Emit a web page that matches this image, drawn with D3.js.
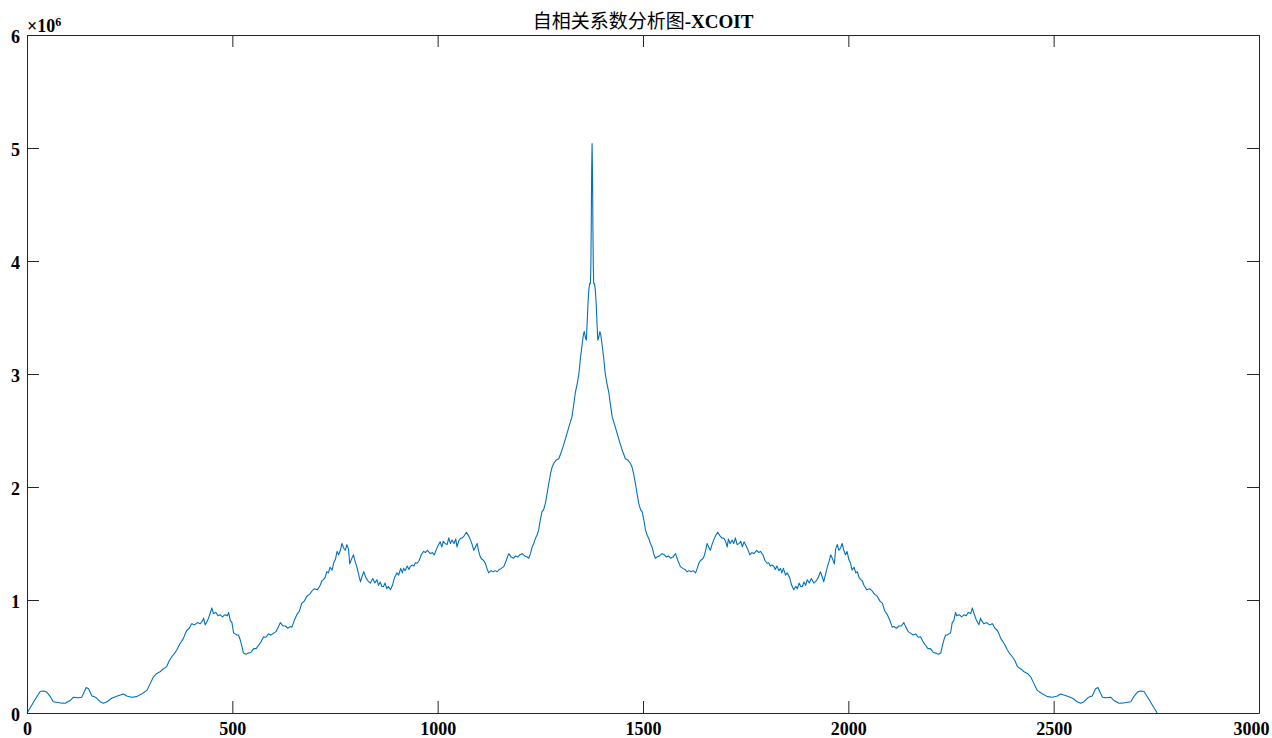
<!DOCTYPE html>
<html>
<head>
<meta charset="utf-8">
<script src="https://cdn.jsdelivr.net/npm/d3@7"></script>
<style>
  body { margin: 0; background: #fff; }
  svg { display: block; }
</style>
</head>
<body>
<div id="chart"></div>
<script>
// lag (samples) and autocorrelation value (x10^6)
var lags = [
  0,10,19,32,40,48,56,64,80,93,105,113,125,133,140,144,150,158,164,170,178,186,195,206,220,235,243,255,267,280,292,300,308,316,324,332,340,346,353,358,365,372,381,385,389,395,401,408,415,422,428,430,434,440,446,450,454,460,465,470,476,482,488,491,495,499,503,507,511,515,519,524,527,533,539,545,552,558,564,570,576,582,588,594,600,606,612,617,623,629,635,641,645,651,657,663,669,675,682,688,694,700,707,714,718,722,726,730,734,738,743,747,751,755,759,763,767,771,775,779,783,786,790,795,799,803,808,812,816,820,825,830,836,842,847,852,856,860,864,868,872,876,880,885,890,895,901,905,910,914,917,921,926,930,933,938,942,946,950,955,960,966,970,975,982,987,992,997,1001,1006,1010,1014,1018,1023,1027,1031,1035,1040,1044,1047,1051,1055,1060,1065,1070,1075,1080,1084,1088,1092,1096,1100,1104,1108,1112,1116,1120,1124,1130,1135,1140,1145,1150,1155,1161,1167,1173,1179,1185,1190,1195,1200,1206,1212,1218,1222,1226,1230,1234,1238,1242,1246,1250,1254,1258,1262,1265,1270,1275,1279,1283,1289,1295,1299,1303,1309,1315,1321,1327,1331,1335,1340,1344,1348,1352,1355,1357,1360,1362,1364,1366,1368,1370,1372,1373,1374,1375,1376,
  1377,1378,1379,1380,1382,1384,1386,1388,1390,1392,1395,1397,1400,1404,1408,1412,1417,1421,1425,1431,1437,1443,1449,1453,1457,1463,1469,1473,1477,1482,1487,1490,1494,1498,1502,1506,1510,1514,1518,1522,1526,1530,1534,1540,1546,1552,1557,1562,1567,1573,1579,1585,1591,1597,1602,1607,1612,1617,1622,1628,1632,1636,1640,1644,1648,1652,1656,1660,1664,1668,1672,1677,1682,1687,1692,1697,1701,1705,1708,1712,1717,1721,1725,1729,1734,1738,1742,1746,1751,1755,1760,1765,1770,1777,1782,1786,1792,1797,1802,1806,1810,1814,1819,1822,1826,1831,1835,1838,1842,1847,1851,1857,1862,1867,1872,1876,1880,1884,1888,1892,1896,1900,1905,1910,1916,1922,1927,1932,1936,1940,1944,1949,1953,1957,1962,1966,1969,1973,1977,1981,1985,1989,1993,1997,2001,2005,2009,2014,2018,2022,2026,2030,2034,2038,2045,2052,2058,2064,2070,2077,2083,2089,2095,2101,2107,2111,2117,2123,2129,2135,2140,2146,2152,2158,2164,2170,2176,2182,2188,2194,2200,2207,2213,2219,2225,2228,2233,2237,2241,2245,2249,2253,2257,2261,2264,2270,2276,2282,2287,2292,2298,2302,2306,2312,2318,2322,2324,2330,2337,2344,2351,2357,2363,2367,2371,2380,2387,2394,2399,2406,2412,2420,2428,2436,2444,2452,2460,2472,2485,2497,2509,2517,2532,2546,2557,2566,2574,2582,2588,2594,2602,2608,2612,2619,2627,2639,2647,2659,2672,2688,2696,2704,2712,2720,2733,2742,2752
];
var values = [
  0,0.06,0.115,0.19,0.195,0.185,0.15,0.10,0.09,0.086,0.11,0.14,0.135,0.14,0.19,0.225,0.215,0.15,0.145,0.13,0.10,0.086,0.10,0.13,0.15,0.168,0.15,0.14,0.145,0.17,0.20,0.26,0.32,0.35,0.365,0.39,0.41,0.46,0.50,0.52,0.56,0.61,0.66,0.70,0.73,0.75,0.79,0.78,0.80,0.79,0.82,0.84,0.78,0.82,0.88,0.93,0.88,0.89,0.86,0.87,0.85,0.87,0.86,0.89,0.82,0.80,0.71,0.70,0.69,0.69,0.65,0.58,0.53,0.52,0.53,0.535,0.57,0.57,0.60,0.63,0.675,0.67,0.70,0.69,0.705,0.72,0.76,0.80,0.77,0.77,0.75,0.765,0.76,0.82,0.87,0.90,0.97,0.99,1.035,1.05,1.08,1.10,1.09,1.13,1.17,1.18,1.20,1.25,1.24,1.29,1.265,1.33,1.36,1.43,1.40,1.44,1.50,1.46,1.44,1.49,1.45,1.32,1.36,1.40,1.34,1.295,1.22,1.16,1.21,1.25,1.20,1.17,1.15,1.19,1.15,1.18,1.13,1.16,1.12,1.12,1.15,1.10,1.12,1.09,1.13,1.20,1.24,1.22,1.28,1.24,1.28,1.26,1.30,1.27,1.295,1.31,1.30,1.33,1.325,1.35,1.40,1.43,1.42,1.44,1.41,1.42,1.40,1.45,1.48,1.515,1.47,1.52,1.50,1.49,1.55,1.50,1.53,1.50,1.54,1.47,1.52,1.545,1.55,1.57,1.60,1.57,1.53,1.49,1.44,1.47,1.50,1.43,1.38,1.36,1.35,1.325,1.28,1.24,1.26,1.25,1.26,1.25,1.27,1.28,1.295,1.35,1.41,1.38,1.37,1.39,1.38,1.40,1.41,1.39,1.38,1.37,1.41,1.47,1.50,1.545,1.575,1.62,1.71,1.78,1.80,1.85,1.91,2.02,2.12,2.18,2.21,2.24,2.25,2.29,2.33,2.40,2.475,2.55,2.62,2.72,2.83,2.92,3.005,3.15,3.27,3.35,3.375,3.32,3.30,3.45,3.62,3.74,3.80,3.80,3.95,4.3,4.8,5.04,
  4.8,4.3,3.95,3.80,3.80,3.74,3.62,3.45,3.30,3.32,3.375,3.35,3.27,3.15,3.005,2.92,2.83,2.72,2.62,2.55,2.475,2.40,2.33,2.29,2.25,2.24,2.21,2.18,2.12,2.02,1.91,1.85,1.80,1.78,1.71,1.62,1.575,1.545,1.50,1.47,1.41,1.37,1.38,1.39,1.41,1.40,1.38,1.39,1.37,1.38,1.41,1.35,1.295,1.28,1.27,1.25,1.26,1.25,1.26,1.24,1.28,1.325,1.35,1.36,1.38,1.43,1.50,1.47,1.44,1.49,1.53,1.57,1.60,1.57,1.55,1.545,1.52,1.47,1.54,1.50,1.53,1.50,1.55,1.49,1.50,1.52,1.47,1.515,1.48,1.45,1.40,1.42,1.41,1.44,1.42,1.43,1.40,1.35,1.325,1.33,1.30,1.31,1.295,1.27,1.30,1.26,1.28,1.24,1.28,1.22,1.24,1.20,1.13,1.09,1.12,1.10,1.15,1.12,1.12,1.16,1.13,1.18,1.15,1.19,1.15,1.17,1.20,1.25,1.21,1.16,1.22,1.295,1.34,1.40,1.36,1.32,1.45,1.49,1.44,1.46,1.50,1.44,1.40,1.43,1.36,1.33,1.265,1.29,1.24,1.25,1.20,1.18,1.17,1.13,1.09,1.10,1.08,1.05,1.035,0.99,0.97,0.90,0.87,0.82,0.76,0.765,0.75,0.77,0.77,0.80,0.76,0.72,0.705,0.69,0.70,0.67,0.675,0.63,0.60,0.57,0.57,0.535,0.53,0.52,0.53,0.58,0.65,0.69,0.69,0.70,0.71,0.80,0.82,0.89,0.86,0.87,0.85,0.87,0.86,0.89,0.88,0.93,0.88,0.82,0.78,0.84,0.82,0.79,0.80,0.78,0.79,0.75,0.73,0.70,0.66,0.61,0.56,0.52,0.50,0.46,0.41,0.39,0.365,0.35,0.32,0.26,0.20,0.17,0.145,0.14,0.15,0.168,0.15,0.13,0.10,0.086,0.10,0.13,0.145,0.15,0.215,0.225,0.19,0.14,0.135,0.14,0.11,0.086,0.09,0.10,0.15,0.185,0.195,0.19,0.115,0.06,0
];
var xTicks = [0, 500, 1000, 1500, 2000, 2500, 3000];
var yTicks = [0, 1, 2, 3, 4, 5, 6];

var W = 1272, H = 738;
var margin = {left: 27, right: 13, top: 35, bottom: 25};
var axisColor = "#262626";
var lineColor = "#0072BD";
var numFont = "'Liberation Serif', 'Times New Roman', serif";

var svg = d3.select("#chart").append("svg")
  .attr("width", W)
  .attr("height", H);

var x = d3.scaleLinear().domain([0, 3000]).range([margin.left, W - margin.right]);
var y = d3.scaleLinear().domain([0, 6]).range([H - margin.bottom, margin.top]);

// curva
var pts = lags.map(function(d, i){ return [d, values[i]]; });
var line = d3.line()
  .x(function(d){ return x(d[0]); })
  .y(function(d){ return y(d[1]); });

svg.append("path")
  .datum(pts)
  .attr("d", line)
  .attr("fill", "none")
  .attr("stroke", lineColor)
  .attr("stroke-width", 1.1)
  .attr("stroke-linejoin", "round");

// assi (tick verso l'interno su tutti e quattro i lati)
function styleAxis(g){
  g.selectAll("path").attr("stroke", axisColor).attr("stroke-width", 1);
  g.selectAll("line").attr("stroke", axisColor).attr("stroke-width", 1);
  g.selectAll("text")
    .attr("fill", "#000")
    .style("font-family", numFont)
    .style("font-weight", "bold")
    .style("font-size", "18px");
}

svg.append("g")
  .attr("transform", "translate(0," + (H - margin.bottom) + ")")
  .call(d3.axisBottom(x).tickValues(xTicks).tickSizeInner(-12).tickSizeOuter(0).tickPadding(10).tickFormat(d3.format("d")))
  .call(styleAxis)
  .call(function(g){
    g.selectAll("text").attr("dy", "0.68em");
    // l'ultima etichetta sta vicino al bordo destro
    g.selectAll(".tick text").filter(function(d){ return d === 3000; }).attr("dx", -8);
  });

svg.append("g")
  .attr("transform", "translate(0," + margin.top + ")")
  .call(d3.axisTop(x).tickValues(xTicks).tickSizeInner(-12).tickSizeOuter(0).tickFormat(""))
  .call(styleAxis);

svg.append("g")
  .attr("transform", "translate(" + margin.left + ",0)")
  .call(d3.axisLeft(y).tickValues(yTicks).tickSizeInner(-12).tickSizeOuter(0).tickPadding(7).tickFormat(d3.format("d")))
  .call(styleAxis)
  .call(function(g){ g.selectAll("text").attr("dy", "0.4em"); });

svg.append("g")
  .attr("transform", "translate(" + (W - margin.right) + ",0)")
  .call(d3.axisRight(y).tickValues(yTicks).tickSizeInner(-12).tickSizeOuter(0).tickFormat(""))
  .call(styleAxis);

// moltiplicatore
var mult = svg.append("text")
  .attr("x", margin.left)
  .attr("y", margin.top - 3)
  .style("font-family", numFont)
  .style("font-weight", "bold")
  .style("font-size", "18px")
  .attr("fill", "#000");
mult.append("tspan").text("×10");
mult.append("tspan").attr("dy", "-0.5em").style("font-size", "12px").text("6");

// titolo
var title = svg.append("text")
  .attr("x", (margin.left + W - margin.right) / 2)
  .attr("y", 28)
  .attr("text-anchor", "middle")
  .attr("fill", "#000")
  .style("font-size", "19px");
title.append("tspan")
  .style("font-family", "'Noto Sans CJK SC', sans-serif")
  .style("font-weight", "normal")
  .text("自相关系数分析图");
title.append("tspan")
  .style("font-family", numFont)
  .style("font-weight", "bold")
  .text("-XCOIT");
</script>
</body>
</html>
